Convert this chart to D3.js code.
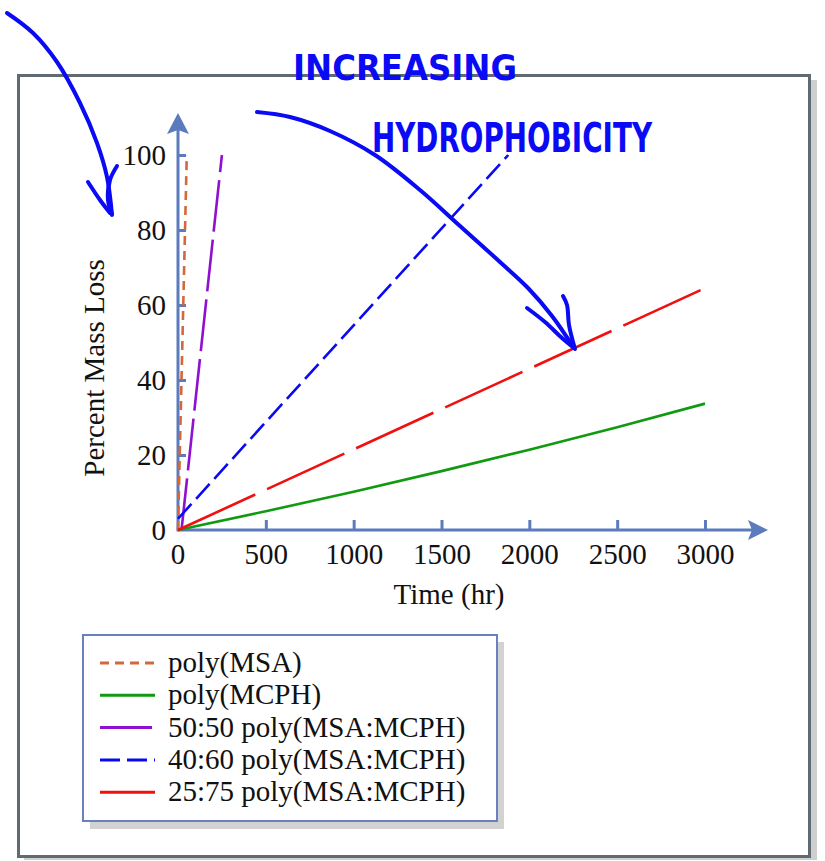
<!DOCTYPE html>
<html>
<head>
<meta charset="utf-8">
<script src="https://cdn.jsdelivr.net/npm/d3@7"></script>
<style>
  body { margin: 0; background: #fff; }
  svg text { font-family: "Liberation Serif", "Times New Roman", serif; }
</style>
</head>
<body>
<script>
// data: [time (hr), percent mass loss]
var msa      = [[0, 0], [50, 100]];
var mcph     = [[0, 0], [500, 5], [1000, 10.2], [1500, 15.7], [2000, 21.4], [2500, 27.4], [3000, 33.7]];
var r5050    = [[20, 0], [250, 100]];
var r4060    = [[0, 3], [1880, 100]];
var r2575    = [[0, 0], [3000, 64.5]];

var xTicks = [0, 500, 1000, 1500, 2000, 2500, 3000];
var yTicks = [0, 20, 40, 60, 80, 100];
var labels = ["poly(MSA)", "poly(MCPH)", "50:50 poly(MSA:MCPH)", "40:60 poly(MSA:MCPH)", "25:75 poly(MSA:MCPH)"];

var series = [
  {name: labels[0], data: msa,   color: "#d2693a", dash: "9,6",  curve: d3.curveLinear},
  {name: labels[1], data: mcph,  color: "#109a10", dash: null,   curve: d3.curveMonotoneX},
  {name: labels[2], data: r5050, color: "#9010d0", dash: "52,8", curve: d3.curveLinear},
  {name: labels[3], data: r4060, color: "#0a0af0", dash: "20,7", curve: d3.curveLinear},
  {name: labels[4], data: r2575, color: "#f01010", dash: "85,13", curve: d3.curveLinear}
];

var W = 825, H = 861;
var axisColor = "#5b7bbd";
var fs = 29;

var svg = d3.select("body").append("svg")
  .attr("width", W)
  .attr("height", H);

// outer frame with shadow
svg.append("rect").attr("x", 24).attr("y", 80).attr("width", 793).attr("height", 780).attr("fill", "#cfcfcf");
svg.append("rect").attr("x", 18.5).attr("y", 75.5).attr("width", 791).attr("height", 781)
  .attr("fill", "#fff").attr("stroke", "#5f6a72").attr("stroke-width", 3);

var x = d3.scaleLinear().domain([0, 3000]).range([178, 705]);
var y = d3.scaleLinear().domain([0, 100]).range([530, 155]);

// axes
var gx = svg.append("g").attr("transform", "translate(0," + y(0) + ")")
  .call(d3.axisBottom(x).tickValues(xTicks.slice(1)).tickSize(-10).tickPadding(13).tickFormat(d3.format("d")));
var gy = svg.append("g").attr("transform", "translate(" + x(0) + ",0)")
  .call(d3.axisLeft(y).tickValues(yTicks).tickSize(-8).tickPadding(12).tickFormat(d3.format("d")));
[gx, gy].forEach(function(g) {
  g.select(".domain").remove();
  g.selectAll("line").attr("stroke", axisColor).attr("stroke-width", 3);
  g.selectAll("text").attr("font-size", fs).attr("fill", "#111")
    .attr("font-family", "Liberation Serif");
});
gy.selectAll(".tick").filter(function(d) { return d === 0; }).select("line").remove();
// 0 label under the origin
gx.append("text").attr("x", x(0)).attr("y", 13).attr("dy", "0.71em")
  .attr("text-anchor", "middle").attr("font-size", fs).attr("fill", "#111")
  .attr("font-family", "Liberation Serif").text("0");

svg.append("line").attr("x1", x(0)).attr("y1", y(0)).attr("x2", 752).attr("y2", y(0))
  .attr("stroke", axisColor).attr("stroke-width", 3);
svg.append("path").attr("d", "M768," + y(0) + " L748," + (y(0) - 10) + " L752," + y(0) + " L748," + (y(0) + 10) + " Z")
  .attr("fill", axisColor);
svg.append("line").attr("x1", x(0)).attr("y1", y(0) + 1.5).attr("x2", x(0)).attr("y2", 130)
  .attr("stroke", axisColor).attr("stroke-width", 3);
svg.append("path").attr("d", "M" + x(0) + ",113 L" + (x(0) - 11) + ",134 L" + x(0) + ",130 L" + (x(0) + 11) + ",134 Z")
  .attr("fill", axisColor);

// axis titles
svg.append("text").attr("x", 449).attr("y", 604).attr("text-anchor", "middle")
  .attr("font-size", fs).attr("fill", "#111").text("Time (hr)");
svg.append("text").attr("transform", "translate(104,368) rotate(-90)").attr("text-anchor", "middle")
  .attr("font-size", fs).attr("fill", "#111").text("Percent Mass Loss");

// series
series.forEach(function(s) {
  var line = d3.line().x(function(d) { return x(d[0]); }).y(function(d) { return y(d[1]); }).curve(s.curve);
  svg.append("path").datum(s.data).attr("d", line)
    .attr("fill", "none").attr("stroke", s.color).attr("stroke-width", 2.6)
    .attr("stroke-dasharray", s.dash);
});

// legend
svg.append("rect").attr("x", 90).attr("y", 642).attr("width", 414).attr("height", 187).attr("fill", "#d2d2d2");
svg.append("rect").attr("x", 83).attr("y", 635).attr("width", 414).attr("height", 186)
  .attr("fill", "#fff").attr("stroke", "#6a80c0").attr("stroke-width", 2);
var leg = svg.selectAll(".leg").data(series).enter().append("g")
  .attr("transform", function(d, i) { return "translate(100," + (663 + i * 32.3) + ")"; });
leg.append("line").attr("x1", 0).attr("x2", 55).attr("y1", 0).attr("y2", 0)
  .attr("stroke", function(d) { return d.color; }).attr("stroke-width", 3)
  .attr("stroke-dasharray", function(d) { return d.dash; });
leg.append("text").attr("x", 68).attr("y", 9).attr("font-size", fs).attr("fill", "#111")
  .text(function(d) { return d.name; });

// hand-drawn annotations
var ink = "#0a0af5";
var pen = d3.line().curve(d3.curveCatmullRom);
var strokes = [
  [[7, 13], [33, 33], [57, 62], [80, 103], [97, 143], [107, 177], [112, 215]],
  [[88, 182], [100, 200], [110, 213]],
  [[117, 166], [110, 180], [108, 200], [112, 214]],
  [[257, 112], [290, 117], [330, 131], [375, 155], [420, 190], [460, 226], [500, 262], [528, 288], [552, 316], [574, 348]],
  [[527, 308], [545, 322], [562, 338], [574, 348]],
  [[563, 296], [567, 305], [569, 325], [575, 349]]
];
strokes.forEach(function(p) {
  svg.append("path").attr("d", pen(p)).attr("fill", "none").attr("stroke", ink)
    .attr("stroke-width", 4).attr("stroke-linecap", "round").attr("stroke-linejoin", "round");
});
svg.append("text").attr("x", 293).attr("y", 80).attr("textLength", 224).attr("lengthAdjust", "spacingAndGlyphs")
  .attr("font-size", 36).attr("font-weight", "bold").attr("fill", ink).style("font-family", "DejaVu Sans").text("INCREASING");
svg.append("text").attr("x", 372).attr("y", 152).attr("textLength", 280).attr("lengthAdjust", "spacingAndGlyphs")
  .attr("font-size", 40).attr("font-weight", "bold").attr("fill", ink).style("font-family", "DejaVu Sans").text("HYDROPHOBICITY");
</script>
</body>
</html>
